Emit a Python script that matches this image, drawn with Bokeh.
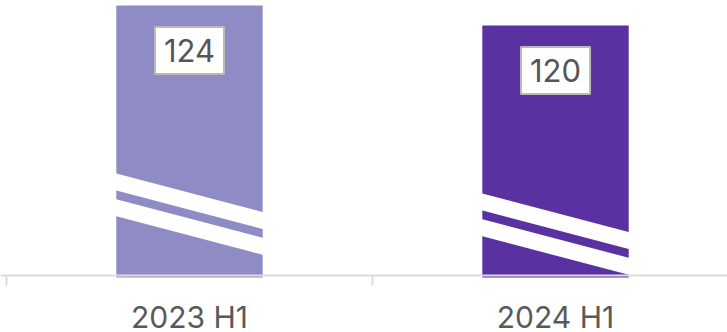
from bokeh.plotting import figure
from bokeh.models import Range1d, FixedTicker, Label
from bokeh.embed import file_html
from bokeh.resources import INLINE

# ---- data ----
categories = ["2023 H1", "2024 H1"]
values = [124, 120]
value_labels = ["124", "120"]
bar_colors = ["#8f8bc4", "#5a31a1"]
positions = [0.5, 1.5]
boundaries = [0, 1, 2]

# ---- style constants ----
BASE = 70            # truncated axis baseline
BAR_W = 0.4
STRIPE_OFFSET = 33.5  # below bar top (data units)
STRIPE_THICK = 3.4
STRIPE_GAP = 1.75
STRIPE_DROP = 7.9
LABEL_DROP = 9.0
FONT = "Inter"

p = figure(width=727, height=332, output_backend="svg", toolbar_location=None,
           x_range=Range1d(-6 / 366, 721 / 366), y_range=Range1d(125 - 332 / 5, 125),
           min_border=0, min_border_left=0, min_border_right=0, min_border_top=0,
           min_border_bottom=0)
p.outline_line_color = None
p.grid.visible = False
p.yaxis.visible = False
p.background_fill_color = "white"

p.vbar(x=positions, top=values, bottom=BASE - 0.4, width=BAR_W, color=bar_colors, line_color=None)

# broken-axis stripes
xs, ys = [], []
for c, v in zip(positions, values):
    l = c - BAR_W / 2 - 0.005
    r = c + BAR_W / 2 + 0.005
    for k in range(2):
        top = v - STRIPE_OFFSET - k * (STRIPE_THICK + STRIPE_GAP)
        xs.append([l, r, r, l])
        ys.append([top, top - STRIPE_DROP, top - STRIPE_DROP - STRIPE_THICK, top - STRIPE_THICK])
p.patches(xs, ys, fill_color="white", line_color=None)

for c, v, t in zip(positions, values, value_labels):
    p.add_layout(Label(x=c, y=v - LABEL_DROP, text=t, text_align="center", text_baseline="middle",
                       text_font=FONT, text_font_size="31px", text_color="#555555",
                       background_fill_color="white", border_line_color="#b9b9b9",
                       border_line_width=2, padding=dict(left=9, right=9, top=12, bottom=12)))

ax = p.xaxis[0]
ax.fixed_location = BASE
ax.ticker = FixedTicker(ticks=positions, minor_ticks=boundaries)
ax.major_label_overrides = {pos: cat for pos, cat in zip(positions, categories)}
ax.major_tick_out = 0
ax.major_tick_in = 0
ax.major_tick_line_color = None
ax.minor_tick_out = 10
ax.minor_tick_in = 0
ax.minor_tick_line_color = "#dcdcdc"
ax.minor_tick_line_width = 2
ax.axis_line_color = "#dcdcdc"
ax.axis_line_width = 2
ax.major_label_standoff = 13
ax.major_label_text_font = FONT
ax.major_label_text_font_size = "30px"
ax.major_label_text_color = "#595959"

open("out.html", "w").write(file_html(p, INLINE))
